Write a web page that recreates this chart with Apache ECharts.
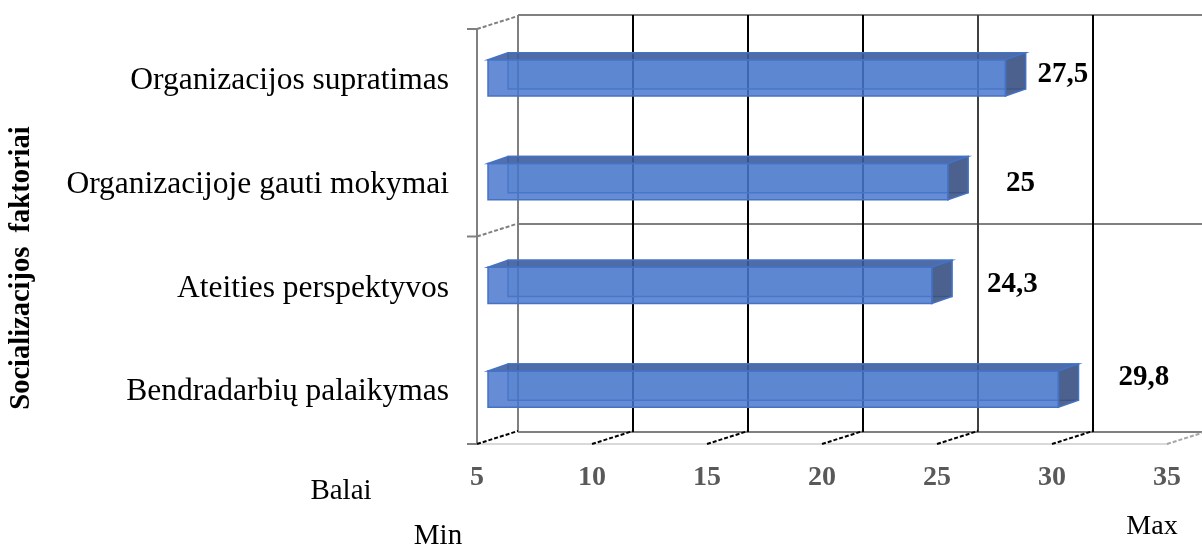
<!DOCTYPE html>
<html>
<head>
<meta charset="utf-8">
<title>Socializacijos faktoriai</title>
<script src="https://cdn.jsdelivr.net/npm/echarts@6/dist/echarts.min.js"></script>
<style>
  html, body { margin: 0; padding: 0; background: #fff; }
  #chart { width: 1202px; height: 550px; }
</style>
</head>
<body>
<div id="chart"></div>
<script>
// Factor names (top to bottom) and their scores
const categories = [
  'Organizacijos supratimas',
  'Organizacijoje gauti mokymai',
  'Ateities perspektyvos',
  'Bendradarbių palaikymas'
];
const scores = [27.5, 25, 24.3, 29.8];
const xTicks = [5, 10, 15, 20, 25, 30, 35];
// Category boundaries that carry a tick mark on the left wall
const wallTicks = [0, 2, 4];

// Manual nudges of the value labels, [dx, dy] in px
const labelNudge = [[10, 0], [36, 5], [33, 3], [38, -8]];

const SERIF = "'Liberation Serif', 'Times New Roman', serif";
const DEPTH = [41, -13];          // floor / wall depth vector
const BAR_FRONT = [11, -3];       // bar front face inside the depth
const BAR_DEPTH = [20, -7];       // bar thickness along depth
const X_MIN = xTicks[0], X_MAX = xTicks[xTicks.length - 1], X_STEP = xTicks[1] - xTicks[0];

const chart = echarts.init(document.getElementById('chart'), null, { renderer: 'canvas' });

function renderBar(params, api) {
  const v = api.value(0);
  const i = api.value(1);
  const base = api.coord([X_MIN, i]);
  const end = api.coord([v, i]);
  const band = api.size([0, 1])[1];
  const h = band * 0.35;
  const x0 = base[0] + BAR_FRONT[0];
  const x1 = end[0] + BAR_FRONT[0];
  const y0 = base[1] + BAR_FRONT[1] - h / 2;
  const y1 = y0 + h;
  const dx = BAR_DEPTH[0], dy = BAR_DEPTH[1];
  const edge = '#4472c4';
  const nudge = labelNudge[i] || [0, 0];
  return {
    type: 'group',
    children: [
      { type: 'rect', shape: { x: x0 + dx, y: y0 + dy, width: x1 - x0, height: h },
        style: { fill: 'rgba(68,114,196,0.25)', stroke: 'rgba(68,114,196,0.95)', lineWidth: 1.5 } },
      { type: 'polygon', shape: { points: [[x0, y0], [x1, y0], [x1 + dx, y0 + dy], [x0 + dx, y0 + dy]] },
        style: { fill: 'rgba(62,92,156,0.88)', stroke: edge, lineWidth: 1.5 } },
      { type: 'polygon', shape: { points: [[x1, y0], [x1 + dx, y0 + dy], [x1 + dx, y1 + dy], [x1, y1]] },
        style: { fill: 'rgba(58,80,128,0.88)', stroke: edge, lineWidth: 1.5 } },
      { type: 'rect', shape: { x: x0, y: y0, width: x1 - x0, height: h },
        style: { fill: 'rgba(72,118,204,0.84)', stroke: edge, lineWidth: 1.5 } },
      { type: 'text', z2: 10,
        style: {
          x: x1 + dx + nudge[0], y: (y0 + y1) / 2 + dy / 2 + nudge[1],
          text: String(v).replace('.', ','),
          font: 'bold 29px ' + SERIF, fill: '#000',
          align: 'left', verticalAlign: 'middle',
          backgroundColor: '#fff', padding: [2, 2]
        } }
    ]
  };
}

// Depth lines running from the front edge of the floor to the back wall
function renderFloorTick(params, api) {
  const v = api.value(0);
  const cs = params.coordSys;
  const x = api.coord([v, 0])[0];
  const yb = cs.y + cs.height;
  return {
    type: 'line',
    shape: { x1: x, y1: yb, x2: x + DEPTH[0], y2: yb + DEPTH[1] },
    style: { stroke: v === X_MAX ? '#a6a6a6' : '#000', lineWidth: 2, lineDash: [4, 2] }
  };
}

// Tick marks on the left wall plus their depth lines
function renderWallTick(params, api) {
  const b = api.value(1);
  const cs = params.coordSys;
  const band = api.size([0, 1])[1];
  const y = cs.y + b * band;
  const x = cs.x;
  const children = [{
    type: 'line',
    shape: { x1: x - 10, y1: y, x2: x, y2: y },
    style: { stroke: '#808080', lineWidth: 2 }
  }];
  if (b < categories.length) {
    children.push({
      type: 'line',
      shape: { x1: x, y1: y, x2: x + DEPTH[0], y2: y + DEPTH[1] },
      style: { stroke: '#808080', lineWidth: 2, lineDash: [4, 2] }
    });
  }
  return { type: 'group', children: children };
}

const front = { left: 477, top: 29, width: 690, height: 415 };
const back = { left: front.left + DEPTH[0], top: 15, width: front.width, height: 417 };

const option = {
  backgroundColor: '#fff',
  animation: false,
  grid: [
    Object.assign({ outerBoundsMode: 'none', containLabel: false }, back),
    Object.assign({ outerBoundsMode: 'none', containLabel: false }, front)
  ],
  xAxis: [
    {
      gridIndex: 0, type: 'value', min: X_MIN, max: X_MAX, interval: X_STEP,
      axisLine: { show: false }, axisTick: { show: false }, axisLabel: { show: false },
      splitLine: { show: true, lineStyle: { width: 2,
        color: ['#808080', '#000', '#000', '#000', '#404040', '#000', '#808080'] } }
    },
    {
      gridIndex: 1, type: 'value', min: X_MIN, max: X_MAX, interval: X_STEP,
      axisLine: { show: true, lineStyle: { color: '#d9d9d9', width: 2 } },
      axisTick: { show: false },
      splitLine: { show: false },
      axisLabel: {
        show: true, margin: 20, color: '#595959',
        fontFamily: SERIF, fontWeight: 'bold', fontSize: 28
      }
    }
  ],
  yAxis: [
    {
      gridIndex: 0, type: 'category', data: categories, inverse: true,
      axisLine: { show: false }, axisTick: { show: false }, axisLabel: { show: false },
      splitLine: { show: true, interval: 1, lineStyle: { color: '#808080', width: 2 } }
    },
    {
      gridIndex: 1, type: 'category', data: categories, inverse: true,
      axisLine: { show: true, lineStyle: { color: '#808080', width: 2 } },
      axisTick: { show: false },
      splitLine: { show: false },
      axisLabel: {
        show: true, interval: 0, margin: 28, color: '#000',
        fontFamily: SERIF, fontSize: 31.5
      }
    }
  ],
  graphic: [
    { type: 'text', x: 22, y: 268, rotation: Math.PI / 2,
      style: { text: 'Socializacijos  faktoriai', font: 'bold 28.5px ' + SERIF, fill: '#000',
        align: 'center', verticalAlign: 'middle' } },
    { type: 'text', x: 341, y: 491,
      style: { text: 'Balai', font: '29px ' + SERIF, fill: '#000', align: 'center', verticalAlign: 'middle' } },
    { type: 'text', x: 438, y: 536,
      style: { text: 'Min', font: '29px ' + SERIF, fill: '#000', align: 'center', verticalAlign: 'middle' } },
    { type: 'text', x: 1152, y: 527,
      style: { text: 'Max', font: '28px ' + SERIF, fill: '#000', align: 'center', verticalAlign: 'middle' } }
  ],
  series: [
    {
      type: 'custom', name: 'floor', xAxisIndex: 1, yAxisIndex: 1, z: 1, silent: true,
      renderItem: renderFloorTick,
      data: xTicks.map(v => [v, 0])
    },
    {
      type: 'custom', name: 'wall', xAxisIndex: 1, yAxisIndex: 1, z: 1, silent: true,
      renderItem: renderWallTick,
      data: wallTicks.map(b => [X_MIN, b])
    },
    {
      type: 'custom', name: 'Balai', xAxisIndex: 1, yAxisIndex: 1, z: 3,
      renderItem: renderBar,
      encode: { x: 0, y: 1 },
      data: scores.map((v, i) => [v, i])
    }
  ]
};

chart.setOption(option);
</script>
</body>
</html>
